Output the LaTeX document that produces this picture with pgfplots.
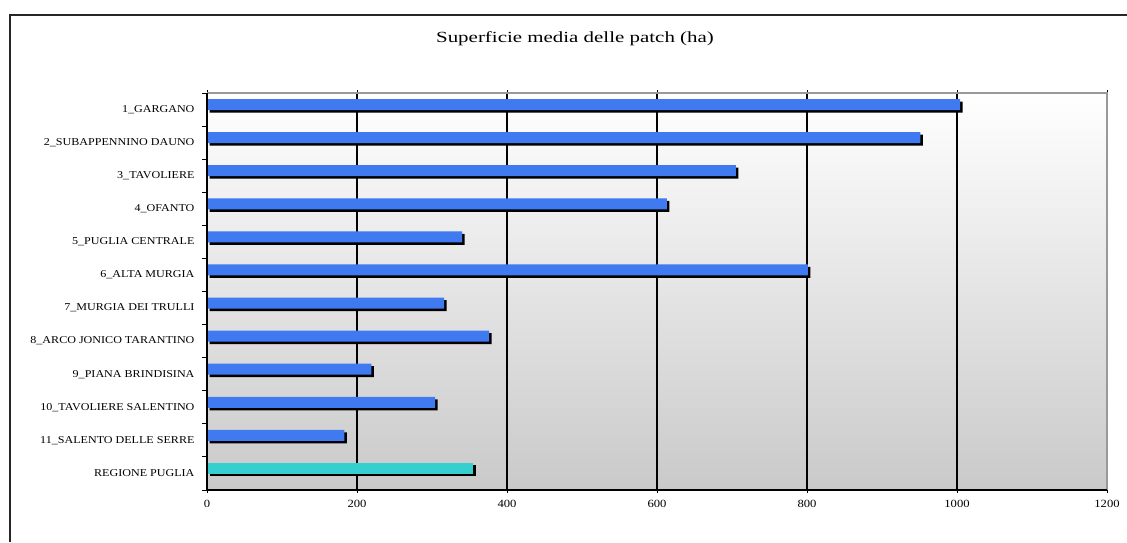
\documentclass[border=0pt]{standalone}
\usepackage{pgfplots}
\pgfplotsset{compat=1.18}
\usepackage{fontspec}
\setmainfont{Liberation Serif}
\newfontfamily\labfont{Liberation Serif}[FakeStretch=1.15]
\newfontfamily\titfont{Liberation Serif}[FakeStretch=1.35]
\definecolor{barblue}{HTML}{3F7AF0}
\definecolor{barcyan}{HTML}{36CFCF}
\begin{document}
\begin{tikzpicture}[x=1pt,y=1pt]
\useasboundingbox (0,0) rectangle (1127,542);
\draw[line width=1.8pt, black!85] (10,0) -- (10,527) -- (1127,527);
\node[anchor=base, font=\titfont\fontsize{15.5}{17}\selectfont] at (575,499) {Superficie media delle patch (ha)};
\begin{axis}[
  at={(207pt,52pt)}, anchor=south west,
  scale only axis, width=900pt, height=397pt,
  xmin=0, xmax=1200, ymin=0.5, ymax=12.5, y dir=reverse,
  axis line style={draw=none},
  axis background/.style={top color=white, bottom color=black!21},
  xtick={0,200,...,1200},
  xmajorgrids, major grid style={black, line width=1.3pt},
  xtick style={black, line width=1pt},
  tick align=center, major tick length=6pt,
  ytick={1,...,12},
  ytick style={draw=none},
  yticklabels={1\_GARGANO, 2\_SUBAPPENNINO DAUNO, 3\_TAVOLIERE, 4\_OFANTO, 5\_PUGLIA CENTRALE, 6\_ALTA MURGIA, 7\_MURGIA DEI TRULLI, 8\_ARCO JONICO TARANTINO, 9\_PIANA BRINDISINA, 10\_TAVOLIERE SALENTINO, 11\_SALENTO DELLE SERRE, REGIONE PUGLIA},
  yticklabel style={font=\labfont\fontsize{10.5}{12}\selectfont, xshift=-3pt},
  xticklabel style={font=\labfont\fontsize{11}{12}\selectfont, yshift=-4pt},
  /pgf/number format/assume math mode=true,
  /pgf/number format/1000 sep={},
  xbar, bar width=11pt, bar shift=5pt,
  clip=false,
]
\addplot[draw=none, fill=barblue, preaction={fill=black, transform canvas={xshift=2.5pt, yshift=-2.5pt}}] coordinates {
 (1004,1) (951,2) (705,3) (613,4) (340,5) (801,6) (316,7) (376,8) (219,9) (304,10) (183,11)};
\addplot[draw=none, fill=barcyan, preaction={fill=black, transform canvas={xshift=2.5pt, yshift=-2.5pt}}] coordinates {
 (355,12)};
\draw[black!40, line width=1.5pt] (axis description cs:0,1) -- (axis description cs:1,1) -- (axis description cs:1,0);
\draw[black, line width=1.3pt] (axis description cs:1,0) -- (axis description cs:0,0) -- (axis description cs:0,1);
\pgfplotsinvokeforeach{0,...,12}{\draw[black, line width=1pt] (axis description cs:0,#1/12) -- ++(-5pt,0pt);}
\end{axis}
\end{tikzpicture}
\end{document}
